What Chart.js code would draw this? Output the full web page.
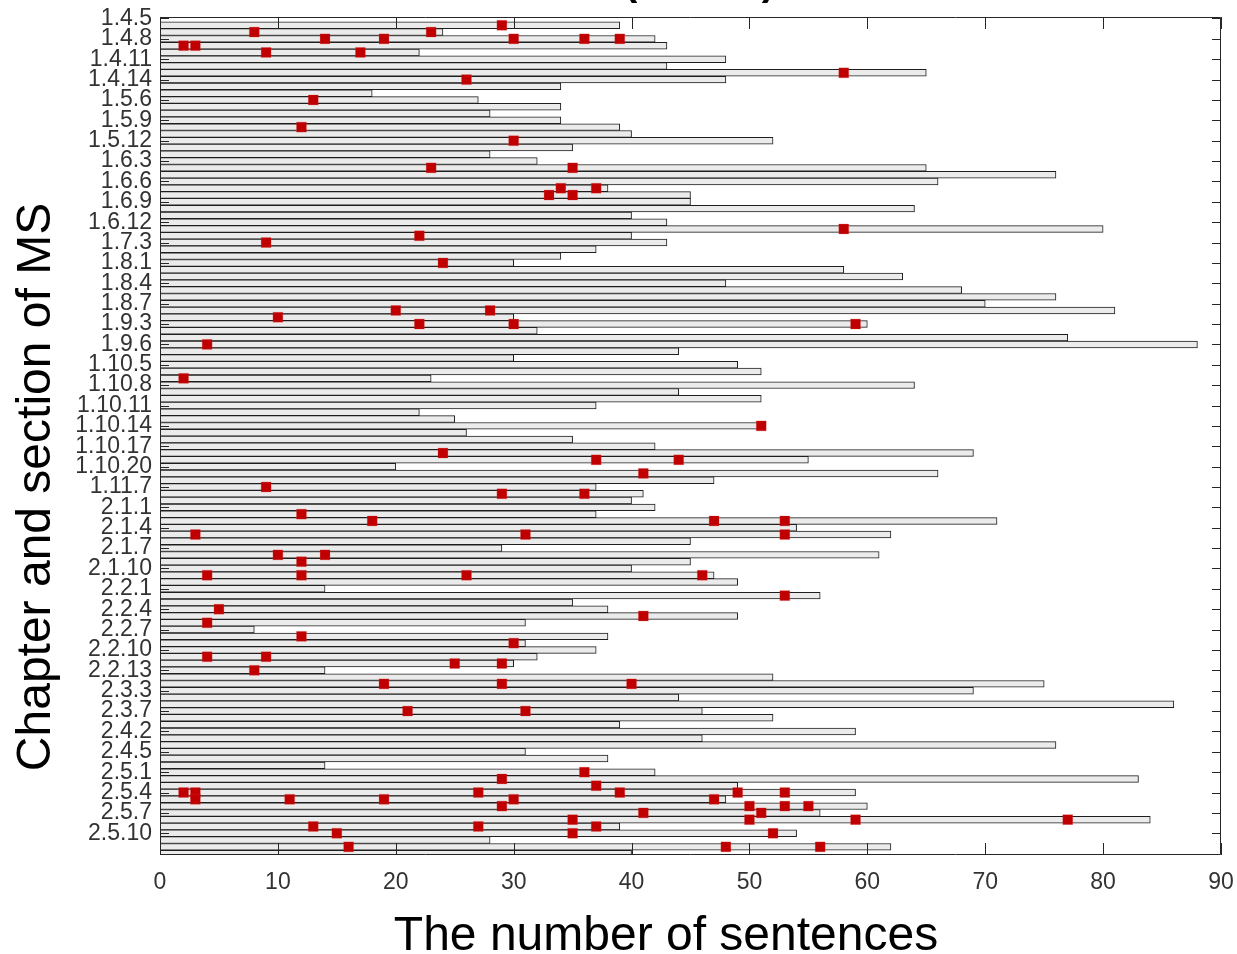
<!DOCTYPE html>
<html>
<head>
<meta charset="utf-8">
<script src="https://cdn.jsdelivr.net/npm/chart.js@4.4.0/dist/chart.umd.min.js"></script>
<style>
html,body{margin:0;padding:0;background:#ffffff;}
#wrap{width:1237px;height:954px;position:relative;}
</style>
</head>
<body>
<div id="wrap"><canvas id="c" width="1237" height="954"></canvas></div>
<script>
// ---- data ----
const sections = [
  "1.4.5","1.4.6","1.4.7","1.4.8","1.4.9","1.4.10","1.4.11","1.4.12","1.4.13","1.4.14",
  "1.5.4","1.5.5","1.5.6","1.5.7","1.5.8","1.5.9","1.5.10","1.5.11","1.5.12",
  "1.6.1","1.6.2","1.6.3","1.6.4","1.6.5","1.6.6","1.6.7","1.6.8","1.6.9","1.6.10","1.6.11","1.6.12",
  "1.7.1","1.7.2","1.7.3","1.7.4","1.7.5",
  "1.8.1","1.8.2","1.8.3","1.8.4","1.8.5","1.8.6","1.8.7",
  "1.9.1","1.9.2","1.9.3","1.9.4","1.9.5","1.9.6",
  "1.10.3","1.10.4","1.10.5","1.10.6","1.10.7","1.10.8","1.10.9","1.10.10","1.10.11","1.10.12",
  "1.10.13","1.10.14","1.10.15","1.10.16","1.10.17","1.10.18","1.10.19","1.10.20",
  "1.11.5","1.11.6","1.11.7","1.11.8","1.11.9",
  "2.1.1","2.1.2","2.1.3","2.1.4","2.1.5","2.1.6","2.1.7","2.1.8","2.1.9","2.1.10","2.1.11","2.1.12",
  "2.2.1","2.2.2","2.2.3","2.2.4","2.2.5","2.2.6","2.2.7","2.2.8","2.2.9","2.2.10","2.2.11","2.2.12","2.2.13",
  "2.3.1","2.3.2","2.3.3","2.3.5","2.3.6","2.3.7","2.3.8",
  "2.4.1","2.4.2","2.4.3","2.4.4","2.4.5","2.4.6","2.4.7",
  "2.5.1","2.5.2","2.5.3","2.5.4","2.5.5","2.5.6","2.5.7","2.5.8","2.5.9","2.5.10","2.5.11","2.5.12","2.5.13"
];

const sentenceCounts = [
  null,39,24,42,43,22,48,43,65,48,
  34,18,27,34,28,34,39,40,52,
  35,28,32,65,76,66,38,45,45,64,40,43,
  80,40,43,37,34,
  30,58,63,48,68,76,70,
  81,30,60,32,77,88,
  44,30,49,51,23,64,44,51,37,22,
  25,51,26,35,42,69,55,20,
  66,47,37,41,40,
  42,37,71,54,62,45,29,61,45,40,47,49,
  14,56,35,38,49,31,8,38,31,37,32,30,14,
  52,75,69,44,86,46,52,
  39,59,46,76,31,38,14,
  42,83,49,59,48,60,56,84,39,54,28,62,40
];

const selectedSentences = {
  "1.4.6":[29], "1.4.7":[8,23], "1.4.8":[14,19,30,36,39], "1.4.9":[2,3], "1.4.10":[9,17],
  "1.4.13":[58], "1.4.14":[26], "1.5.6":[13], "1.5.10":[12], "1.5.12":[30],
  "1.6.4":[23,35], "1.6.7":[34,37], "1.6.8":[33,35],
  "1.7.1":[58], "1.7.2":[22], "1.7.3":[9], "1.8.1":[24],
  "1.9.1":[20,28], "1.9.2":[10], "1.9.3":[22,30,59], "1.9.6":[4],
  "1.10.7":[2], "1.10.14":[51], "1.10.18":[24], "1.10.19":[37,44],
  "1.11.5":[41], "1.11.7":[9], "1.11.8":[29,36],
  "2.1.2":[12], "2.1.3":[18,47,53], "2.1.5":[3,31,53], "2.1.8":[10,14], "2.1.9":[12], "2.1.11":[4,12,26,46],
  "2.2.2":[53], "2.2.4":[5], "2.2.5":[41], "2.2.6":[4], "2.2.8":[12], "2.2.9":[30],
  "2.2.11":[4,9], "2.2.12":[25,29], "2.2.13":[8],
  "2.3.2":[19,29,40], "2.3.7":[21,31],
  "2.5.1":[36], "2.5.2":[29], "2.5.3":[37], "2.5.4":[2,3,27,39,49,53], "2.5.5":[3,11,19,30,47],
  "2.5.6":[29,50,53,55], "2.5.7":[41,51], "2.5.8":[35,50,59,77], "2.5.9":[13,27,37],
  "2.5.10":[15,35,52], "2.5.12":[16,48,56]
};

const yTickLabels = [
  "1.4.5","1.4.8","1.4.11","1.4.14","1.5.6","1.5.9","1.5.12","1.6.3","1.6.6","1.6.9","1.6.12",
  "1.7.3","1.8.1","1.8.4","1.8.7","1.9.3","1.9.6","1.10.5","1.10.8","1.10.11","1.10.14",
  "1.10.17","1.10.20","1.11.7","2.1.1","2.1.4","2.1.7","2.1.10","2.2.1","2.2.4","2.2.7",
  "2.2.10","2.2.13","2.3.3","2.3.7","2.4.2","2.4.5","2.5.1","2.5.4","2.5.7","2.5.10"
];
const xTickValues = [0,10,20,30,40,50,60,70,80,90];
const chartTitle = "Selected sentences (Oracle)";
const xTitle = "The number of sentences";
const yTitle = "Chapter and section of MS";

// ---- build datasets ----
const barData = sections.map((s, i) => ({ x: sentenceCounts[i], y: i }));
const pointData = [];
sections.forEach((s, i) => {
  (selectedSentences[s] || []).forEach(v => pointData.push({ x: v, y: i }));
});
const labelledRows = yTickLabels.map(l => sections.indexOf(l));

const FONT = "'Liberation Sans', Arial, sans-serif";
const INK = "#262626";

const framePlugin = {
  id: 'frame',
  afterDatasetsDraw(chart) {
    const { ctx, chartArea: a, scales } = chart;
    ctx.save();
    ctx.strokeStyle = INK;
    ctx.lineWidth = 1;
    ctx.beginPath();
    ctx.rect(Math.round(a.left) + 0.5, Math.round(a.top) + 0.5,
             Math.round(a.right - a.left) - 1, Math.round(a.bottom - a.top) - 1);
    ctx.stroke();
    ctx.beginPath();
    xTickValues.forEach(v => {
      const px = Math.round(scales.x.getPixelForValue(v)) + 0.5;
      ctx.moveTo(px, a.bottom); ctx.lineTo(px, a.bottom - 12);
      ctx.moveTo(px, a.top); ctx.lineTo(px, a.top + 12);
    });
    labelledRows.forEach(r => {
      const py = Math.round(scales.y.getPixelForValue(r)) + 0.5;
      ctx.moveTo(a.left, py); ctx.lineTo(a.left + 9, py);
      ctx.moveTo(a.right, py); ctx.lineTo(a.right - 9, py);
    });
    ctx.stroke();
    ctx.restore();
  },
  afterDraw(chart) {
    const { ctx } = chart;
    ctx.save();
    ctx.fillStyle = "#000000";
    ctx.font = "48px " + FONT;
    ctx.textAlign = "center";
    ctx.textBaseline = "alphabetic";
    ctx.fillText(xTitle, 666, 950);
    ctx.translate(50, 487);
    ctx.rotate(-Math.PI / 2);
    ctx.fillText(yTitle, 0, 0);
    ctx.restore();
    // main title: only its lowest part falls inside the page, as in the reference
    ctx.save();
    ctx.fillStyle = "#000000";
    ctx.font = "bold 40px " + FONT;
    ctx.textAlign = "left";
    ctx.textBaseline = "alphabetic";
    const open = chartTitle.indexOf("(");
    const pre = ctx.measureText(chartTitle.slice(0, open)).width;
    ctx.fillText(chartTitle, 624 - pre, -5);
    ctx.restore();
  }
};

new Chart(document.getElementById('c'), {
  type: 'bar',
  data: {
    datasets: [
      {
        type: 'scatter',
        data: pointData,
        pointStyle: 'rect',
        pointRadius: 7,
        pointHoverRadius: 7,
        backgroundColor: '#c00000',
        borderColor: 'rgba(220,60,60,0.5)',
        borderWidth: 0.5,
        order: 0
      },
      {
        type: 'bar',
        data: barData,
        backgroundColor: '#ebebeb',
        borderColor: '#1e1e1e',
        borderWidth: 1,
        borderSkipped: false,
        barPercentage: 1,
        categoryPercentage: 1,
        order: 1
      }
    ]
  },
  options: {
    indexAxis: 'y',
    responsive: false,
    animation: false,
    events: [],
    layout: { padding: { left: 0, right: 16, top: 17, bottom: 0 } },
    plugins: { legend: { display: false }, tooltip: { enabled: false }, title: { display: false } },
    scales: {
      x: {
        type: 'linear', min: 0, max: 90, position: 'bottom', offset: false,
        grid: { display: false, drawTicks: false, offset: false },
        border: { display: false },
        afterBuildTicks(s) { s.ticks = xTickValues.map(v => ({ value: v })); },
        ticks: { font: { family: FONT, size: 23 }, color: '#333333', padding: 14, maxRotation: 0 },
        afterFit(s) { s.height = 99; s.paddingLeft = 0; s.paddingRight = 0; }
      },
      y: {
        type: 'linear', reverse: true, min: -0.22, max: 123.2, position: 'left', offset: false,
        grid: { display: false, drawTicks: false, offset: false },
        border: { display: false },
        afterBuildTicks(s) { s.ticks = labelledRows.map(v => ({ value: v })); },
        ticks: {
          autoSkip: false,
          callback: (v) => sections[v],
          font: { family: FONT, size: 23 }, color: '#333333', padding: 8
        },
        afterFit(s) { s.width = 160; s.paddingTop = 0; s.paddingBottom = 0; }
      }
    }
  },
  plugins: [framePlugin]
});
</script>
</body>
</html>
